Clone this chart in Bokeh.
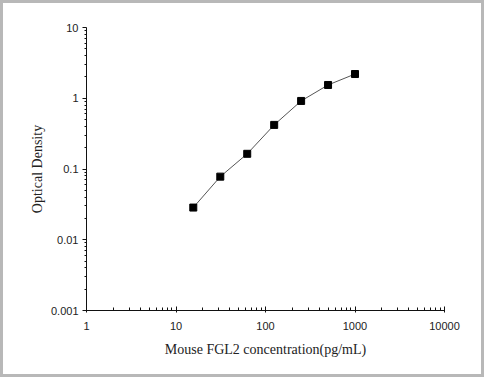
from bokeh.plotting import figure
from bokeh.models import Range1d, FixedTicker
from bokeh.embed import file_html
from bokeh.resources import INLINE

# Data
concentration = [15.6, 31.25, 62.5, 125, 250, 500, 1000]
optical_density = [0.0285, 0.078, 0.164, 0.42, 0.916, 1.54, 2.2]

x_ticks = [1, 10, 100, 1000, 10000]
x_tick_labels = ["1", "10", "100", "1000", "10000"]
y_ticks = [0.001, 0.01, 0.1, 1, 10]
y_tick_labels = ["0.001", "0.01", "0.1", "1", "10"]

x_minor = [m * d for d in [1, 10, 100, 1000] for m in range(2, 10)]
y_minor = [m * d for d in [0.001, 0.01, 0.1, 1] for m in range(2, 10)]

p = figure(
    width=484, height=377,
    x_axis_type="log", y_axis_type="log",
    x_range=Range1d(1, 10000), y_range=Range1d(0.001, 10),
    output_backend="svg", toolbar_location=None,
    min_border_left=83, min_border_right=43, min_border_top=24, min_border_bottom=70,
    background_fill_color="white", border_fill_color="white",
)
p.styles = {"border": "3px solid #b8b8b8"}
p.outline_line_color = None
p.xgrid.visible = False
p.ygrid.visible = False

p.line(concentration, optical_density, line_color="#555555", line_width=1)
p.scatter(concentration, optical_density, marker="square", size=7,
          fill_color="black", line_color="black")

xa = p.xaxis[0]
xa.ticker = FixedTicker(ticks=x_ticks, minor_ticks=x_minor)
xa.major_label_overrides = {t: l for t, l in zip(x_ticks, x_tick_labels)}
xa.axis_label = "Mouse FGL2 concentration(pg/mL)"
xa.axis_label_text_font = "Liberation Serif"
xa.axis_label_text_font_style = "normal"
xa.axis_label_text_font_size = "14px"
xa.axis_label_text_color = "#222222"
xa.axis_label_standoff = 9
xa.major_label_text_font = "Liberation Sans"
xa.major_label_text_font_size = "11px"
xa.major_label_text_color = "#222222"
xa.major_label_standoff = 9
xa.major_tick_in = 4
xa.major_tick_out = 2
xa.minor_tick_in = 3
xa.minor_tick_out = 0
xa.axis_line_color = "#111111"
xa.major_tick_line_color = "#111111"
xa.minor_tick_line_color = "#111111"

ya = p.yaxis[0]
ya.ticker = FixedTicker(ticks=y_ticks, minor_ticks=y_minor)
ya.major_label_overrides = {t: l for t, l in zip(y_ticks, y_tick_labels)}
ya.axis_label = "Optical Density"
ya.axis_label_text_font = "Liberation Serif"
ya.axis_label_text_font_style = "normal"
ya.axis_label_text_font_size = "14px"
ya.axis_label_text_color = "#222222"
ya.axis_label_standoff = 3
ya.major_label_text_font = "Liberation Sans"
ya.major_label_text_font_size = "11px"
ya.major_label_text_color = "#222222"
ya.major_label_standoff = 4
ya.major_tick_in = 0
ya.major_tick_out = 4
ya.minor_tick_in = 0
ya.minor_tick_out = 2
ya.axis_line_color = "#111111"
ya.major_tick_line_color = "#111111"
ya.minor_tick_line_color = "#111111"

open("out.html", "w").write(file_html(p, INLINE))
